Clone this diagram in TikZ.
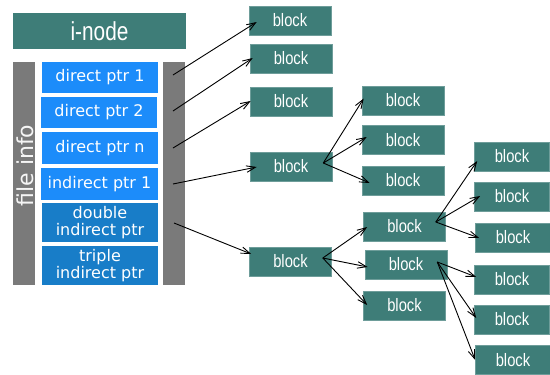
\documentclass[tikz,border=0pt]{standalone}
\usepackage{fontspec}
\setmainfont{DejaVu Sans}
\newfontfamily\narrowfont[FakeStretch=0.82]{Liberation Sans}
\newfontfamily\inodefont[FakeStretch=0.8]{Liberation Sans}
\usetikzlibrary{arrows.meta,calc}
\definecolor{tealblk}{RGB}{62,125,120}
\definecolor{ptrblue}{RGB}{28,140,250}
\definecolor{ptrdark}{RGB}{24,125,200}
\definecolor{bargray}{RGB}{122,122,122}
\begin{document}
\begin{tikzpicture}[x=1pt,y=-1pt,
  blk/.style={fill=tealblk, draw=tealblk!75!white, line width=0.6pt, text=white,
    minimum width=82, minimum height=29, inner sep=0pt,
    font=\narrowfont\fontsize{18}{18}\selectfont},
  ptr/.style={fill=ptrblue, text=white, minimum width=116, minimum height=31,
    inner sep=0pt, align=center, font=\fontsize{16}{16.5}\selectfont},
  ptrd/.style={ptr, fill=ptrdark, minimum height=39},
  bar/.style={fill=bargray, minimum width=22, minimum height=223, inner sep=0pt},
  arr/.style={-{Straight Barb[length=9pt,width=6.5pt]}, line width=0.9pt, black}]
\useasboundingbox (0,0) rectangle (550,375);
% left part
\node[fill=tealblk, text=white, minimum width=173, minimum height=36, inner sep=0pt,
  font=\inodefont\fontsize{26}{26}\selectfont] (inode) at (99.5,31) {i-node};
\node[bar] (fbar) at (24,173.5) {};
\node[rotate=90, text=white!92!gray, font=\fontsize{22}{22}\selectfont] (finfo) at ($(fbar.center)+(1,-8)$) {file info};
\node[bar] (rbar) at (174,173.5) {};
\node[ptr] (dp1) at (100,77.5) {direct ptr 1};
\node[ptr] (dp2) at (99,112.5) {direct ptr 2};
\node[ptr, minimum height=32] (dpn) at (100,148) {direct ptr n};
\node[ptr, minimum height=32, minimum width=117] (ip1) at (99.5,184) {indirect ptr 1};
\node[ptrd] (dip) at (100,222.5) {double\\indirect ptr};
\node[ptrd] (tip) at (100,265.5) {triple\\indirect ptr};
% column 1
\node[blk] (b1) at (290,20.5) {block};
\node[blk] (b2) at (291,58.5) {block};
\node[blk] (b3) at (291,101.5) {block};
\node[blk] (b4) at (291,166.5) {block};
\node[blk] (b5) at (290.5,261.5) {block};
% column 2
\node[blk] (c1) at (403,100.5) {block};
\node[blk] (c2) at (403,140) {block};
\node[blk] (c3) at (403,180.5) {block};
\node[blk] (c4) at (404.5,226.5) {block};
\node[blk] (c5) at (406,264.5) {block};
\node[blk] (c6) at (404.5,305.5) {block};
% column 3
\node[blk, minimum width=75] (d1) at (512,156.5) {block};
\node[blk, minimum width=75] (d2) at (512,196.5) {block};
\node[blk, minimum width=75] (d3) at (513,237.5) {block};
\node[blk, minimum width=75] (d4) at (512,279.5) {block};
\node[blk, minimum width=75] (d5) at (512,319.5) {block};
\node[blk, minimum width=75] (d6) at (513,360) {block};
% sources on the bar
\coordinate (s1) at (173,75);
\coordinate (s2) at (173,111);
\coordinate (s3) at (173,148);
\coordinate (s4) at (173,184);
\coordinate (s5) at (174,223);
\coordinate (o4) at ($(b4.east)+(-9,-3.5)$);
\coordinate (o5) at ($(b5.east)+(-9,-3.5)$);
\coordinate (oc4) at ($(c4.east)+(-10,-4.5)$);
\coordinate (oc5) at ($(c5.east)+(-10,-2.5)$);
% arrows
\draw[arr] (s1) -- ($(b1.west)+(8,1.5)$);
\draw[arr] (s2) -- ($(b2.west)+(3,-0.5)$);
\draw[arr] (s3) -- ($(b3.west)+(1,-0.5)$);
\draw[arr] (s4) -- ($(b4.west)+(7,0.5)$);
\draw[arr] (s5) -- ($(b5.west)+(2,-7.5)$);
\draw[arr] (o4) -- ($(c1.west)+(2,-2)$);
\draw[arr] (o4) -- ($(c2.west)+(5,-3)$);
\draw[arr] (o4) -- ($(c3.west)+(8,2.5)$);
\draw[arr] (o5) -- ($(c4.west)+(4,0.5)$);
\draw[arr] (o5) -- ($(c5.west)+(3,2.5)$);
\draw[arr] (o5) -- ($(c6.west)+(4,-0.5)$);
\draw[arr] (oc4) -- ($(d1.west)+(3,4.5)$);
\draw[arr] (oc4) -- ($(d2.west)+(6,-0.5)$);
\draw[arr] (oc4) -- ($(d3.west)+(4,0.5)$);
\draw[arr] (oc5) -- ($(d4.west)+(2,-2.5)$);
\draw[arr] (oc5) -- ($(d5.west)+(2,-1.5)$);
\draw[arr] (oc5) -- ($(d6.west)+(0,0)$);
\end{tikzpicture}
\end{document}
